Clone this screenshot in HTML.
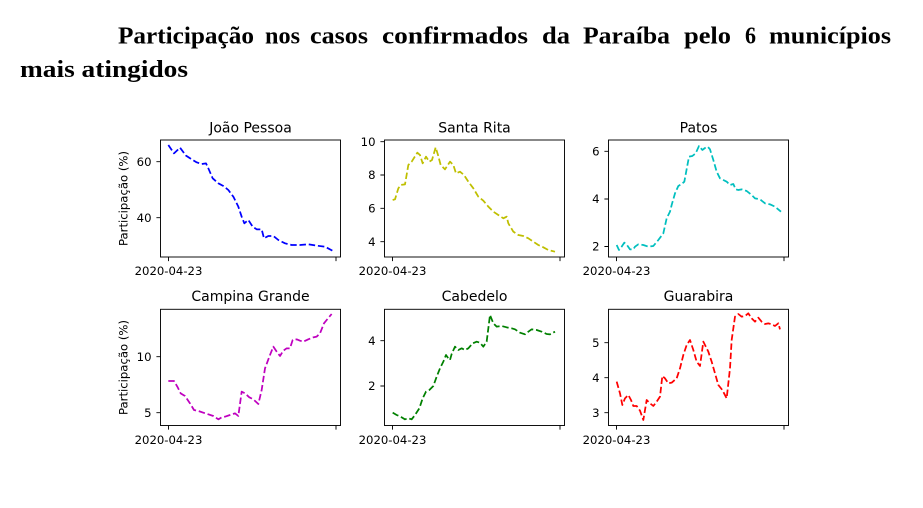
<!DOCTYPE html>
<html><head><meta charset="utf-8">
<style>
html,body{margin:0;padding:0;background:#fff;}
svg{display:block;}
.t{font-family:"DejaVu Sans","Liberation Sans",sans-serif;fill:#000;}
.h{font-family:"Liberation Serif",serif;font-weight:bold;font-size:24px;fill:#000;}
</style></head>
<body>
<svg width="923" height="508" viewBox="0 0 923 508" xmlns="http://www.w3.org/2000/svg">
<rect width="923" height="508" fill="#fff"/>
<!-- Title -->
<text class="h" x="118" y="43.5" textLength="136" lengthAdjust="spacingAndGlyphs">Participação</text>
<text class="h" x="265" y="43.5" textLength="35" lengthAdjust="spacingAndGlyphs">nos</text>
<text class="h" x="310" y="43.5" textLength="58" lengthAdjust="spacingAndGlyphs">casos</text>
<text class="h" x="382" y="43.5" textLength="146" lengthAdjust="spacingAndGlyphs">confirmados</text>
<text class="h" x="542" y="43.5" textLength="28" lengthAdjust="spacingAndGlyphs">da</text>
<text class="h" x="583" y="43.5" textLength="87" lengthAdjust="spacingAndGlyphs">Paraíba</text>
<text class="h" x="684" y="43.5" textLength="47" lengthAdjust="spacingAndGlyphs">pelo</text>
<text class="h" x="745" y="43.5" textLength="11" lengthAdjust="spacingAndGlyphs">6</text>
<text class="h" x="769" y="43.5" textLength="122" lengthAdjust="spacingAndGlyphs">municípios</text>
<text class="h" x="20" y="77" textLength="168" lengthAdjust="spacingAndGlyphs">mais atingidos</text>

<g stroke="#000" stroke-width="0.93" fill="none">
<rect x="160.5" y="140" width="180" height="117"/>
<rect x="384.5" y="140" width="180" height="117"/>
<rect x="608.5" y="140" width="180" height="117"/>
<rect x="160.5" y="309.3" width="180" height="116.2"/>
<rect x="384.5" y="309.3" width="180" height="116.2"/>
<rect x="608.5" y="309.3" width="180" height="116.2"/>
<path d="M168.5 257v4.1M336 257v4.1M392.5 257v4.1M560 257v4.1M616.5 257v4.1M784 257v4.1"/>
<path d="M168.5 425.5v4.1M336 425.5v4.1M392.5 425.5v4.1M560 425.5v4.1M616.5 425.5v4.1M784 425.5v4.1"/>
<path d="M160.5 161.7h-4.1M160.5 217.7h-4.1"/>
<path d="M384.5 141.7h-4.1M384.5 175h-4.1M384.5 208.3h-4.1M384.5 241.7h-4.1"/>
<path d="M608.5 151.3h-4.1M608.5 199h-4.1M608.5 246.5h-4.1"/>
<path d="M160.5 356.7h-4.1M160.5 412.7h-4.1"/>
<path d="M384.5 340.7h-4.1M384.5 386h-4.1"/>
<path d="M608.5 342.7h-4.1M608.5 377.7h-4.1M608.5 412.7h-4.1"/>
</g>

<g class="t" font-size="14" text-anchor="middle">
<text x="250.5" y="132.5">João Pessoa</text>
<text x="474.5" y="132.5">Santa Rita</text>
<text x="698.5" y="132.5">Patos</text>
<text x="250.5" y="301">Campina Grande</text>
<text x="474.5" y="301">Cabedelo</text>
<text x="698.5" y="301">Guarabira</text>
</g>

<g class="t" font-size="11.67" text-anchor="middle">
<text x="168.5" y="274.8">2020-04-23</text>
<text x="392.5" y="274.8">2020-04-23</text>
<text x="616.5" y="274.8">2020-04-23</text>
<text x="168.5" y="443.8">2020-04-23</text>
<text x="392.5" y="443.8">2020-04-23</text>
<text x="616.5" y="443.8">2020-04-23</text>
</g>
<g class="t" font-size="11.67" text-anchor="end">
<text x="151.5" y="165.9">60</text>
<text x="151.5" y="221.9">40</text>
<text x="375.5" y="145.9">10</text>
<text x="375.5" y="179.2">8</text>
<text x="375.5" y="212.5">6</text>
<text x="375.5" y="245.9">4</text>
<text x="599.5" y="155.5">6</text>
<text x="599.5" y="203.2">4</text>
<text x="599.5" y="250.7">2</text>
<text x="151.5" y="360.9">10</text>
<text x="151.5" y="416.9">5</text>
<text x="375.5" y="344.9">4</text>
<text x="375.5" y="390.2">2</text>
<text x="599.5" y="346.9">5</text>
<text x="599.5" y="381.9">4</text>
<text x="599.5" y="416.9">3</text>
</g>
<g class="t" font-size="11.67" text-anchor="middle">
<text transform="translate(127.5,198.5) rotate(-90)">Participação (%)</text>
<text transform="translate(127.5,367.5) rotate(-90)">Participação (%)</text>
</g>

<g fill="none" stroke-width="5.25" stroke-dasharray="19.4 8.4" stroke-linejoin="round">
<g transform="translate(100,110) scale(0.33333)">
<polyline stroke="#0000ff" points="205,105 222,130 240,113 258,137 275,148 290,157 305,162 318,160 325,175 338,205 355,220 370,228 385,240 400,260 415,290 425,320 433,340 445,330 458,350 470,358 485,358 492,385 505,378 520,378 535,390 555,400 575,405 600,405 625,403 650,407 675,410 697,422"/>
</g>
<g transform="translate(340,110) scale(0.33333)">
<polyline stroke="#bfbf00" points="158,270 165,268 175,235 182,225 195,223 205,165 215,155 232,128 240,135 248,160 258,140 268,155 276,150 287,112 294,135 302,165 315,178 330,155 340,165 348,190 360,185 372,195 385,215 400,235 415,260 430,272 445,290 460,305 475,315 490,325 500,320 505,340 520,365 535,375 550,378 565,385 580,395 595,405 610,412 625,420 645,425"/>
</g>
<g transform="translate(565,110) scale(0.33333)">
<polyline stroke="#00bfbf" points="155,405 162,420 170,410 178,398 186,405 195,418 205,418 210,410 220,403 235,405 250,410 265,408 280,390 295,370 305,325 315,305 320,285 330,250 340,228 350,222 358,215 372,140 382,138 392,130 402,108 412,120 420,114 428,110 435,118 445,150 455,185 465,205 475,210 485,215 495,225 505,222 512,238 520,240 530,238 545,243 560,255 570,265 585,268 600,280 615,283 630,290 648,305"/>
</g>
<g transform="translate(100,280) scale(0.33333)">
<polyline stroke="#bf00bf" points="205,303 222,303 232,320 242,340 255,348 270,370 282,390 295,393 310,398 325,403 340,408 355,418 365,412 375,410 390,405 405,400 415,408 425,335 435,340 448,352 460,358 475,372 485,330 495,265 510,225 520,200 530,215 540,228 550,212 560,205 570,205 578,180 590,178 600,182 610,185 625,178 640,172 650,170 660,160 672,130 680,120 695,102"/>
</g>
<g transform="translate(340,280) scale(0.33333)">
<polyline stroke="#008000" points="158,398 170,405 182,410 195,418 205,415 215,418 225,405 238,385 248,355 258,335 268,330 280,318 290,290 300,265 310,245 318,225 325,235 330,240 335,222 345,200 355,210 365,205 375,210 385,205 398,190 410,185 420,188 430,200 440,185 450,105 460,130 470,140 485,138 500,142 515,145 525,148 540,158 555,163 565,155 575,148 590,150 605,155 620,162 630,163 645,155"/>
</g>
<g transform="translate(565,280) scale(0.33333)">
<polyline stroke="#ff0000" points="155,305 165,340 172,375 180,355 190,345 198,360 205,378 215,378 225,392 235,420 245,360 255,370 265,378 275,365 285,350 292,288 300,295 310,310 320,308 335,295 345,265 355,225 365,195 375,180 385,210 395,245 405,258 415,185 420,195 430,215 440,245 450,280 460,315 472,330 485,355 495,265 500,180 510,110 520,102 530,110 540,108 550,100 560,115 570,125 580,113 590,125 600,132 610,130 620,133 630,138 640,130 645,148"/>
</g>
</g>
</svg>
</body></html>
